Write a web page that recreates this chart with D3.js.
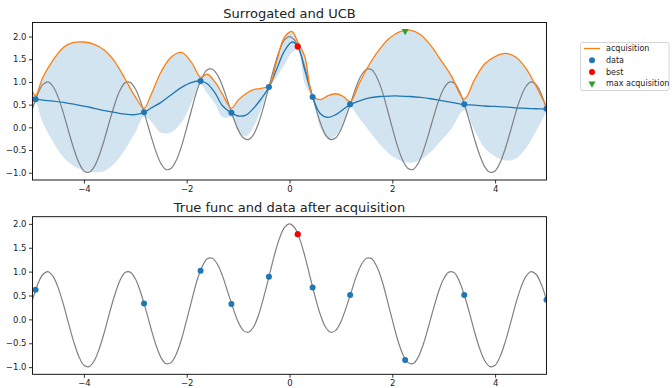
<!DOCTYPE html>
<meta charset="utf-8">
<html>
<head>
    <title>Surrogated and UCB</title>
    <script src="https://d3js.org/d3.v7.min.js"></script>
    <style>
        body { margin: 0; background: #fff; }
        text { font-family: "DejaVu Sans", sans-serif; fill: #222; }
    </style>
</head>
<body>
<svg width="672" height="388"></svg>
<script>

    // GP surrogate, sampled where the picture shows it
    var gpX = [-5.0, -4.94, -4.8, -4.6, -4.4, -4.2, -4.0, -3.8, -3.6, -3.4,
               -3.2, -3.0, -2.83, -2.7, -2.5, -2.3, -2.1, -1.9, -1.73, -1.6,
               -1.45, -1.3, -1.13, -1.0, -0.85, -0.7, -0.55, -0.4, -0.25, -0.1,
               0.05, 0.16, 0.3, 0.45, 0.6, 0.75, 0.9, 1.05, 1.18, 1.35,
               1.55, 1.75, 1.95, 2.15, 2.35, 2.55, 2.75, 2.95, 3.15, 3.4,
               3.6, 3.8, 4.0, 4.2, 4.4, 4.6, 4.8, 5.0];
    var gpMean = [0.62, 0.62, 0.60, 0.58, 0.55, 0.51, 0.47, 0.42, 0.37, 0.33,
                  0.29, 0.28, 0.33, 0.42, 0.55, 0.72, 0.88, 0.99, 1.02, 0.96,
                  0.76, 0.47, 0.32, 0.25, 0.27, 0.42, 0.63, 0.88, 1.28, 1.68,
                  1.88, 1.79, 1.25, 0.67, 0.30, 0.22, 0.28, 0.40, 0.50, 0.58,
                  0.65, 0.68, 0.69, 0.69, 0.68, 0.66, 0.63, 0.59, 0.55, 0.50,
                  0.49, 0.47, 0.46, 0.45, 0.43, 0.42, 0.41, 0.40];
    // upper edge of the band == acquisition (UCB)
    var gpUpper = [0.79, 0.70, 1.10, 1.48, 1.76, 1.87, 1.88, 1.83, 1.70, 1.45,
                   1.07, 0.67, 0.42, 0.70, 1.22, 1.55, 1.65, 1.42, 1.10, 1.17,
                   1.00, 0.72, 0.42, 0.60, 0.74, 0.83, 0.86, 0.91, 1.45, 1.98,
                   2.11, 1.88, 1.55, 0.70, 0.61, 0.70, 0.74, 0.68, 0.56, 0.95,
                   1.38, 1.72, 1.97, 2.11, 2.14, 2.04, 1.80, 1.47, 1.13, 0.62,
                   1.05, 1.40, 1.56, 1.63, 1.55, 1.30, 0.90, 0.45];
    var gpLower = [0.45, 0.54, 0.10, -0.32, -0.66, -0.85, -0.94, -0.99, -0.96, -0.79,
                   -0.49, -0.11, 0.24, 0.14, -0.12, -0.11, 0.11, 0.56, 0.94, 0.75,
                   0.52, 0.22, 0.22, -0.10, -0.20, 0.01, 0.40, 0.85, 1.11, 1.38,
                   1.65, 1.70, 0.95, 0.64, -0.01, -0.26, -0.18, 0.12, 0.44, 0.21,
                   -0.08, -0.36, -0.59, -0.73, -0.78, -0.72, -0.54, -0.29, -0.03, 0.38,
                   -0.07, -0.46, -0.64, -0.73, -0.69, -0.46, -0.08, 0.35];

    // true function, every 0.1 from -5 to 5
    var trueX = d3.range(101).map(function(i) { return -5 + i * 0.1; });
    var trueY = [0.41, 0.73, 0.94, 1.00, 0.90, 0.66, 0.32, -0.08, -0.46, -0.77,
                 -0.96, -0.99, -0.87, -0.61, -0.26, 0.14, 0.51, 0.81, 0.98, 0.99,
                 0.85, 0.58, 0.22, -0.17, -0.53, -0.80, -0.93, -0.90, -0.72, -0.41,
                 -0.01, 0.41, 0.81, 1.10, 1.27, 1.28, 1.15, 0.90, 0.57, 0.24,
                 -0.05, -0.23, -0.27, -0.16, 0.10, 0.47, 0.89, 1.32, 1.68, 1.92,
                 2.00,
                 1.92, 1.68, 1.32, 0.89, 0.47, 0.10, -0.16, -0.27, -0.23, -0.05,
                 0.24, 0.57, 0.90, 1.15, 1.28, 1.27, 1.10, 0.81, 0.41, -0.01,
                 -0.41, -0.72, -0.90, -0.93, -0.80, -0.53, -0.17, 0.22, 0.58, 0.85,
                 0.99, 0.98, 0.81, 0.51, 0.14, -0.26, -0.61, -0.87, -0.99, -0.96,
                 -0.77, -0.46, -0.08, 0.32, 0.66, 0.90, 1.00, 0.94, 0.73, 0.41];

    // observations
    var dataX = [-4.94, -2.83, -1.73, -1.13, -0.40, 0.16, 0.45, 1.18, 3.40, 5.0];
    var dataY = [0.62, 0.33, 1.02, 0.32, 0.89, 1.78, 0.67, 0.51, 0.51, 0.41];
    var bestX = [0.16], bestY = [1.78];
    var maxAcqX = [2.25], maxAcqY = [2.12];
    var newX = [2.25], newY = [-0.85];

    var xTicks = [-4, -2, 0, 2, 4];
    var yTicks = [-1.0, -0.5, 0.0, 0.5, 1.0, 1.5, 2.0];
    var titles = ["Surrogated and UCB", "True func and data after acquisition"];
    var legendLabels = ["acquisition", "data", "best", "max acquisition"];

    var blue = "#1f77b4", orange = "#ff7f0e", green = "#2ca02c", red = "#ff0000", grey = "#808080";

    var svg = d3.select("svg");
    var left = 32.5, right = 546.5;

    var x = d3.scaleLinear().domain([-5, 5]).range([left, right]);
    var yTop = d3.scaleLinear().domain([-1.16, 2.31]).range([180, 22.5]);
    var yBot = d3.scaleLinear().domain([-1.15, 2.15]).range([374.3, 216.7]);

    var smooth = d3.curveCatmullRom.alpha(0.5);

    function pairs(xs, ys) {
        return xs.map(function(v, i) { return [v, ys[i]]; });
    }

    function drawAxes(g, y, top, bottom, title, id) {
        g.append("clipPath").attr("id", id)
            .append("rect").attr("x", left).attr("y", top)
            .attr("width", right - left).attr("height", bottom - top);

        var xa = g.append("g").attr("transform", "translate(0," + bottom + ")")
            .call(d3.axisBottom(x).tickValues(xTicks).tickSize(3.5).tickPadding(2.5)
                .tickFormat(d3.format("d")));
        var ya = g.append("g").attr("transform", "translate(" + left + ",0)")
            .call(d3.axisLeft(y).tickValues(yTicks).tickSize(3.5).tickPadding(2.5)
                .tickFormat(d3.format(".1f")));
        [xa, ya].forEach(function(a) {
            a.select(".domain").remove();
            a.selectAll("line").attr("stroke", "#000").attr("stroke-width", 0.8);
            a.selectAll("text").style("font-size", "8.5px").attr("fill", "#222");
        });

        g.append("text").attr("x", (left + right) / 2).attr("y", top - 4.5)
            .attr("text-anchor", "middle").style("font-size", "13px").text(title);
    }

    function drawFrame(g, top, bottom) {
        g.append("rect").attr("x", left).attr("y", top)
            .attr("width", right - left).attr("height", bottom - top)
            .attr("fill", "none").attr("stroke", "#000").attr("stroke-width", 0.9);
    }

    var lineFor = function(y) {
        return d3.line().curve(smooth)
            .x(function(d) { return x(d[0]); }).y(function(d) { return y(d[1]); });
    };

    // ---- top: surrogate + UCB
    var g1 = svg.append("g");
    drawAxes(g1, yTop, 22.5, 180, titles[0], "clipTop");
    var p1 = g1.append("g").attr("clip-path", "url(#clipTop)");

    var band = gpX.map(function(v, i) { return [v, gpLower[i], gpUpper[i]]; });
    p1.append("path").datum(band)
        .attr("d", d3.area().curve(smooth)
            .x(function(d) { return x(d[0]); })
            .y0(function(d) { return yTop(d[1]); })
            .y1(function(d) { return yTop(d[2]); }))
        .attr("fill", blue).attr("fill-opacity", 0.2);

    p1.append("path").datum(pairs(trueX, trueY))
        .attr("d", lineFor(yTop)).attr("fill", "none")
        .attr("stroke", grey).attr("stroke-width", 1.2);

    p1.append("path").datum(pairs(gpX, gpMean)).attr("d", lineFor(yTop))
        .attr("fill", "none").attr("stroke", blue).attr("stroke-width", 1.3);
    p1.append("path").datum(pairs(gpX, gpUpper)).attr("d", lineFor(yTop))
        .attr("fill", "none").attr("stroke", orange).attr("stroke-width", 1.3);

    p1.selectAll(".dot").data(pairs(dataX, dataY)).enter().append("circle")
        .attr("cx", function(d) { return x(d[0]); }).attr("cy", function(d) { return yTop(d[1]); })
        .attr("r", 3).attr("fill", blue);
    p1.selectAll(".best").data(pairs(bestX, bestY)).enter().append("circle")
        .attr("cx", function(d) { return x(d[0]); }).attr("cy", function(d) { return yTop(d[1]); })
        .attr("r", 3).attr("fill", red);
    p1.selectAll(".maxacq").data(pairs(maxAcqX, maxAcqY)).enter().append("path")
        .attr("d", d3.symbol(d3.symbolTriangle, 22))
        .attr("transform", function(d) { return "translate(" + x(d[0]) + "," + yTop(d[1]) + ") rotate(180)"; })
        .attr("fill", green);

    drawFrame(g1, 22.5, 180);

    // ---- bottom: true function + data
    var g2 = svg.append("g");
    drawAxes(g2, yBot, 216.7, 374.3, titles[1], "clipBot");
    var p2 = g2.append("g").attr("clip-path", "url(#clipBot)");

    p2.append("path").datum(pairs(trueX, trueY))
        .attr("d", lineFor(yBot)).attr("fill", "none")
        .attr("stroke", grey).attr("stroke-width", 1.2);

    var allX = dataX.concat(newX), allY = dataY.concat(newY);
    p2.selectAll(".dot").data(pairs(allX, allY)).enter().append("circle")
        .attr("cx", function(d) { return x(d[0]); }).attr("cy", function(d) { return yBot(d[1]); })
        .attr("r", 3).attr("fill", blue);
    p2.selectAll(".best").data(pairs(bestX, bestY)).enter().append("circle")
        .attr("cx", function(d) { return x(d[0]); }).attr("cy", function(d) { return yBot(d[1]); })
        .attr("r", 3).attr("fill", red);

    drawFrame(g2, 216.7, 374.3);

    // ---- legend
    var lg = svg.append("g").attr("transform", "translate(580.5,42.5)");
    lg.append("rect").attr("width", 88.5).attr("height", 48).attr("rx", 2)
        .attr("fill", "#fff").attr("stroke", "#ccc").attr("stroke-width", 0.8);
    var rows = lg.selectAll(".row").data(legendLabels).enter().append("g")
        .attr("transform", function(d, i) { return "translate(0," + (6 + i * 11.7) + ")"; });
    rows.append("text").attr("x", 25.5).attr("dy", "0.35em")
        .style("font-size", "8px").text(function(d) { return d; });
    rows.each(function(d, i) {
        var r = d3.select(this);
        if (i === 0) {
            r.append("line").attr("x1", 3.5).attr("x2", 19.5)
                .attr("stroke", orange).attr("stroke-width", 1.3);
        } else if (i === 3) {
            r.append("path").attr("d", d3.symbol(d3.symbolTriangle, 22))
                .attr("transform", "translate(11.5,0) rotate(180)").attr("fill", green);
        } else {
            r.append("circle").attr("cx", 11.5).attr("r", 3).attr("fill", i === 1 ? blue : red);
        }
    });

</script>
</body>
</html>
